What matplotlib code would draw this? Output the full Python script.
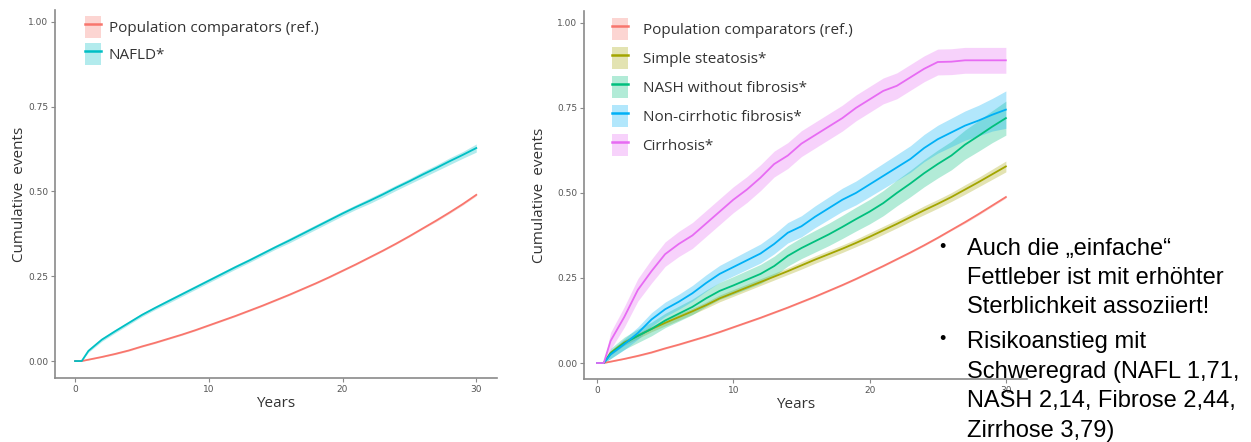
import matplotlib.pyplot as plt
from matplotlib.patches import Patch
from matplotlib.lines import Line2D

years = [0, 0.5, 1, 2, 3, 4, 5, 6, 7, 8, 9, 10, 11, 12, 13, 14, 15, 16, 17, 18, 19, 20,
         21, 22, 23, 24, 25, 26, 27, 28, 29, 30]

# left panel
ref_l = [0, 0, 0.004, 0.012, 0.021, 0.031, 0.043, 0.054, 0.066, 0.078, 0.091, 0.105, 0.119,
         0.133, 0.148, 0.163, 0.179, 0.195, 0.212, 0.229, 0.247, 0.266, 0.285, 0.305, 0.325,
         0.346, 0.368, 0.391, 0.414, 0.438, 0.463, 0.490]
ref_l_ci = [0, 0, 0.001, 0.001, 0.002, 0.002, 0.002, 0.002, 0.002, 0.002, 0.002, 0.002, 0.002,
            0.002, 0.002, 0.002, 0.002, 0.002, 0.002, 0.002, 0.002, 0.002, 0.002, 0.002, 0.002,
            0.002, 0.002, 0.002, 0.003, 0.003, 0.003, 0.003]
nafld = [0, 0, 0.03, 0.063, 0.088, 0.112, 0.136, 0.157, 0.177, 0.197, 0.217, 0.237, 0.257,
         0.277, 0.296, 0.316, 0.336, 0.355, 0.375, 0.395, 0.415, 0.435, 0.454, 0.472, 0.491,
         0.511, 0.530, 0.550, 0.569, 0.589, 0.608, 0.628]
nafld_ci = [0, 0, 0.004, 0.005, 0.005, 0.005, 0.005, 0.005, 0.006, 0.006, 0.006, 0.006, 0.006,
            0.006, 0.006, 0.006, 0.006, 0.007, 0.007, 0.007, 0.007, 0.007, 0.007, 0.008, 0.008,
            0.008, 0.008, 0.009, 0.009, 0.010, 0.010, 0.012]

# right panel
ref_r = [0, 0, 0.004, 0.012, 0.021, 0.031, 0.043, 0.054, 0.066, 0.078, 0.091, 0.105, 0.119,
         0.133, 0.148, 0.163, 0.179, 0.195, 0.212, 0.229, 0.247, 0.266, 0.285, 0.305, 0.325,
         0.346, 0.368, 0.391, 0.414, 0.438, 0.463, 0.488]
steatosis = [0, 0, 0.03, 0.06, 0.08, 0.10, 0.118, 0.135, 0.152, 0.170, 0.190, 0.206, 0.222,
             0.238, 0.254, 0.270, 0.287, 0.304, 0.320, 0.336, 0.353, 0.371, 0.390, 0.409,
             0.429, 0.449, 0.468, 0.488, 0.510, 0.532, 0.555, 0.578]
steatosis_ci = [0, 0, 0.006, 0.008, 0.008, 0.008, 0.009, 0.009, 0.009, 0.009, 0.010, 0.010,
                0.010, 0.010, 0.010, 0.010, 0.011, 0.011, 0.011, 0.011, 0.011, 0.012, 0.012,
                0.012, 0.012, 0.013, 0.013, 0.013, 0.014, 0.014, 0.015, 0.016]
nash = [0, 0, 0.028, 0.058, 0.08, 0.10, 0.125, 0.145, 0.165, 0.19, 0.212, 0.228, 0.245, 0.262,
        0.285, 0.315, 0.338, 0.358, 0.378, 0.40, 0.423, 0.445, 0.47, 0.50, 0.528, 0.558, 0.585,
        0.61, 0.642, 0.668, 0.695, 0.72]
nash_ci = [0, 0, 0.015, 0.018, 0.02, 0.02, 0.021, 0.022, 0.023, 0.024, 0.025, 0.026, 0.027,
           0.028, 0.029, 0.03, 0.031, 0.032, 0.033, 0.034, 0.035, 0.036, 0.037, 0.038, 0.039,
           0.04, 0.041, 0.042, 0.043, 0.045, 0.047, 0.05]
fibrosis = [0, 0, 0.025, 0.055, 0.088, 0.128, 0.158, 0.18, 0.205, 0.235, 0.262, 0.282, 0.302,
            0.322, 0.35, 0.383, 0.402, 0.43, 0.455, 0.48, 0.50, 0.525, 0.55, 0.575, 0.60, 0.632,
            0.658, 0.678, 0.698, 0.713, 0.73, 0.745]
fibrosis_ci = [0, 0, 0.012, 0.016, 0.018, 0.02, 0.021, 0.022, 0.023, 0.024, 0.025, 0.026,
               0.027, 0.028, 0.029, 0.03, 0.031, 0.032, 0.033, 0.034, 0.035, 0.036, 0.037,
               0.038, 0.039, 0.04, 0.041, 0.042, 0.043, 0.045, 0.048, 0.055]
cirrhosis = [0, 0, 0.065, 0.135, 0.215, 0.27, 0.32, 0.35, 0.375, 0.41, 0.445, 0.48, 0.51,
             0.545, 0.585, 0.61, 0.645, 0.67, 0.695, 0.72, 0.75, 0.775, 0.80, 0.815, 0.84,
             0.865, 0.885, 0.886, 0.89, 0.89, 0.89, 0.89]
cirrhosis_ci = [0, 0, 0.025, 0.03, 0.033, 0.035, 0.036, 0.037, 0.038, 0.038, 0.038, 0.038,
                0.038, 0.038, 0.038, 0.038, 0.038, 0.038, 0.038, 0.038, 0.038, 0.038, 0.038,
                0.038, 0.038, 0.038, 0.038, 0.038, 0.038, 0.038, 0.038, 0.038]

left_series = [("Population comparators (ref.)", ref_l, ref_l_ci, "#F8766D"),
               ("NAFLD*", nafld, nafld_ci, "#00BFC4")]
right_series = [("Population comparators (ref.)", ref_r, ref_l_ci, "#F8766D"),
                ("Simple steatosis*", steatosis, steatosis_ci, "#A3A500"),
                ("NASH without fibrosis*", nash, nash_ci, "#00BF7D"),
                ("Non-cirrhotic fibrosis*", fibrosis, fibrosis_ci, "#00B0F6"),
                ("Cirrhosis*", cirrhosis, cirrhosis_ci, "#E76BF3")]

bullets = [["Auch die \u201eeinfache\u201c", "Fettleber ist mit erhöhter",
            "Sterblichkeit assoziiert!"],
           ["Risikoanstieg mit", "Schweregrad (NAFL 1,71,",
            "NASH 2,14, Fibrose 2,44,", "Zirrhose 3,79)"]]

W, H = 1251, 442
fig = plt.figure(figsize=(W / 100, H / 100), dpi=100)
ax1 = fig.add_axes([55 / W, 1 - 378 / H, 442 / W, 368 / H])
ax2 = fig.add_axes([584 / W, 1 - 379 / H, 443 / W, 368 / H])


def panel(ax, series, xlim, ylim, legsp, legx, textpad, ylpad):
    handles = []
    for name, vals, ci, col in series:
        lo = [v - c for v, c in zip(vals, ci)]
        hi = [v + c for v, c in zip(vals, ci)]
        ax.fill_between(years, lo, hi, color=col, alpha=0.3, lw=0)
        ax.plot(years, vals, color=col, lw=1.3)
        handles.append((Patch(facecolor=col, alpha=0.3, lw=0),
                        Line2D([], [], color=col, lw=1.8)))
    ax.set_xlim(*xlim)
    ax.set_ylim(*ylim)
    ax.set_xticks([0, 10, 20, 30])
    ax.set_yticks([0, 0.25, 0.5, 0.75, 1.0])
    ax.set_yticklabels(["0.00", "0.25", "0.50", "0.75", "1.00"])
    for s in ["top", "right"]:
        ax.spines[s].set_visible(False)
    for s in ["left", "bottom"]:
        ax.spines[s].set_color("#8a8a8a")
        ax.spines[s].set_linewidth(1.2)
    ax.tick_params(colors="#8a8a8a", labelcolor="#555555", labelsize=6.5, length=3, width=0.8,
                   pad=2)
    for t in ax.get_xticklabels() + ax.get_yticklabels():
        t.set_fontfamily("Liberation Sans Narrow")
    ax.set_xlabel("Years", fontsize=11, family="Open Sans", color="#333333")
    ax.set_ylabel("Cumulative  events", fontsize=11, family="Open Sans", color="#333333",
                  labelpad=ylpad)
    ax.legend(handles, [s[0] for s in series], loc="upper left", bbox_to_anchor=legx,
              frameon=False, prop={"family": "Open Sans", "size": 11}, labelcolor="#333333",
              handlelength=1.05, handleheight=1.9, handletextpad=textpad, labelspacing=legsp,
              borderaxespad=0, borderpad=0)


panel(ax1, left_series, (-1.5, 31.55), (-0.05, 1.035), 0.3, (30 / 442, 0.985), 0.5, 1)
panel(ax2, right_series, (-0.95, 31.55), (-0.047, 1.035), 0.42, (28 / 443, 0.982), 0.95, 7)
ax1.xaxis.set_label_coords(0.5, -0.05)
ax2.xaxis.set_label_coords(0.477, -0.05)

baselines = [[255, 284, 313], [348, 378, 407, 437]]
for lines, ys in zip(bullets, baselines):
    fig.text(942 / W, 1 - (ys[0] - 8) / H, "\u2022", fontsize=13, family="Liberation Sans",
             va="center", ha="center")
    for txt, y in zip(lines, ys):
        fig.text(967 / W, 1 - y / H, txt, fontsize=17, family="Liberation Sans",
                 va="baseline", color="black")

fig.savefig("out.png", dpi=100)
